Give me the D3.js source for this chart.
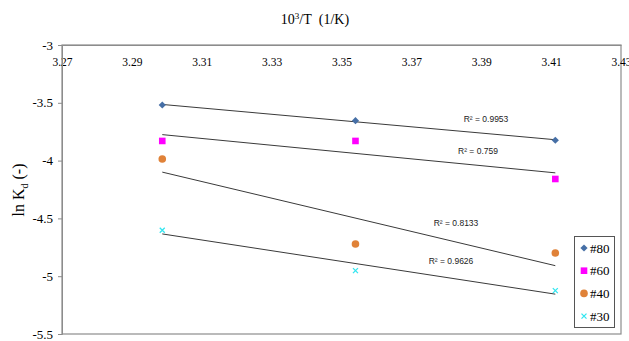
<!DOCTYPE html>
<html><head><meta charset="utf-8">
<script src="https://cdn.jsdelivr.net/npm/d3@7"></script>
<style>body{margin:0;background:#fff}svg{display:block}</style>
</head><body>
<svg id="c" width="629" height="341"></svg>
<script>
const xValues = [3.2987, 3.3540, 3.4112];
const seriesNames = ["#80", "#60", "#40", "#30"];
const s80 = [-3.519, -3.655, -3.824];
const s60 = [-3.830, -3.830, -4.159];
const s40 = [-3.986, -4.721, -4.799];
const s30 = [-4.603, -4.952, -5.125];
const r2Labels = ["R² = 0.9953", "R² = 0.759", "R² = 0.8133", "R² = 0.9626"];
const xTicks = [3.27, 3.29, 3.31, 3.33, 3.35, 3.37, 3.39, 3.41, 3.43];
const yTicks = [-3, -3.5, -4, -4.5, -5, -5.5];

const seriesData = [s80, s60, s40, s30];
const colors = ["#466FA6", "#FF00FF", "#E08238", "#33E6F0"];
const shapes = ["diamond", "square", "circle", "x"];
const r2Pos = [[486, 122], [478, 154], [456, 226], [451, 264]];
const serif = "'Liberation Serif', 'Times New Roman', serif";

const svg = d3.select("#c");
const L = 62, R = 621, T = 45, B = 334;
const x = d3.scaleLinear().domain([3.27, 3.43]).range([L, R]);
const y = d3.scaleLinear().domain([-5.5, -3]).range([B, T]);

svg.append("rect").attr("x", L).attr("y", T).attr("width", R - L).attr("height", B - T)
  .attr("fill", "none").attr("stroke", "#8c8c8c").attr("stroke-width", 1.2);

const xa = svg.append("g").attr("transform", `translate(0,${T})`).attr("font-family", serif)
  .call(d3.axisBottom(x).tickValues(xTicks).tickSize(0).tickPadding(13).tickFormat(d3.format(".2f")));
xa.attr("font-family", serif);
xa.select(".domain").attr("stroke", "#8c8c8c");
xa.selectAll("text").style("font-family", serif).attr("font-size", 11.5).attr("fill", "#000");

const ya = svg.append("g").attr("transform", `translate(${L},0)`)
  .call(d3.axisLeft(y).tickValues(yTicks).tickSize(4).tickPadding(5).tickFormat(d => d));
ya.attr("font-family", serif);
ya.select(".domain").attr("stroke", "#8c8c8c");
ya.selectAll("line").attr("stroke", "#8c8c8c");
ya.selectAll("text").style("font-family", serif).attr("font-size", 13).attr("fill", "#000");

const xt = svg.append("text").attr("x", 315).attr("y", 24).attr("text-anchor", "middle")
  .style("font-family", serif).attr("font-size", 14).style("white-space", "pre");
xt.append("tspan").text("10");
xt.append("tspan").attr("font-size", 9).attr("dy", -5).text("3");
xt.append("tspan").attr("dy", 5).text("/T\u00a0\u00a0(1/K)");

const yt = svg.append("text").attr("transform", "translate(24,190) rotate(-90)").attr("text-anchor", "middle")
  .style("font-family", serif).attr("font-size", 16);
yt.append("tspan").text("ln K");
yt.append("tspan").attr("font-size", 10).attr("dy", 4).text("d");
yt.append("tspan").attr("dy", -4).text(" (-)");

function fit(xs, ys) {
  const mx = d3.mean(xs), my = d3.mean(ys);
  const b = d3.sum(xs, (v, i) => (v - mx) * (ys[i] - my)) / d3.sum(xs, v => (v - mx) ** 2);
  return { b, a: my - b * mx };
}
const line = d3.line().x(d => x(d[0])).y(d => y(d[1]));
seriesData.forEach(ys => {
  const f = fit(xValues, ys);
  const x0 = d3.min(xValues), x1 = d3.max(xValues);
  svg.append("path").attr("d", line([[x0, f.a + f.b * x0], [x1, f.a + f.b * x1]]))
    .attr("stroke", "#3a3a3a").attr("stroke-width", 1).attr("fill", "none");
});

function marker(g, shape, color, cx, cy) {
  if (shape === "diamond") {
    g.append("path").attr("d", `M${cx},${cy-3.6}L${cx+3.6},${cy}L${cx},${cy+3.6}L${cx-3.6},${cy}Z`).attr("fill", color);
  } else if (shape === "square") {
    g.append("rect").attr("x", cx - 3.3).attr("y", cy - 3.3).attr("width", 6.6).attr("height", 6.6).attr("fill", color);
  } else if (shape === "circle") {
    g.append("circle").attr("cx", cx).attr("cy", cy).attr("r", 3.8).attr("fill", color);
  } else {
    g.append("path").attr("d", `M${cx-2.5},${cy-2.5}L${cx+2.5},${cy+2.5}M${cx-2.5},${cy+2.5}L${cx+2.5},${cy-2.5}`)
      .attr("stroke", color).attr("stroke-width", 1.3).attr("fill", "none");
  }
}

seriesData.forEach((ys, k) => {
  const g = svg.append("g");
  ys.forEach((v, i) => marker(g, shapes[k], colors[k], x(xValues[i]), y(v)));
});

r2Labels.forEach((t, k) => {
  svg.append("text").attr("x", r2Pos[k][0]).attr("y", r2Pos[k][1]).attr("text-anchor", "middle")
    .style("font-family", "'Liberation Sans', Arial, sans-serif").attr("font-size", 8.5).attr("fill", "#222").text(t);
});

svg.append("rect").attr("x", 574.5).attr("y", 236.5).attr("width", 40).attr("height", 91)
  .attr("fill", "#fff").attr("stroke", "#555").attr("stroke-width", 1);
seriesNames.forEach((n, k) => {
  const cy = 248 + k * 22.7;
  const g = svg.append("g");
  marker(g, shapes[k], colors[k], 584, cy);
  svg.append("text").attr("x", 590).attr("y", cy + 4.5)
    .style("font-family", serif).attr("font-size", 13).text(n);
});
</script>
</body></html>
